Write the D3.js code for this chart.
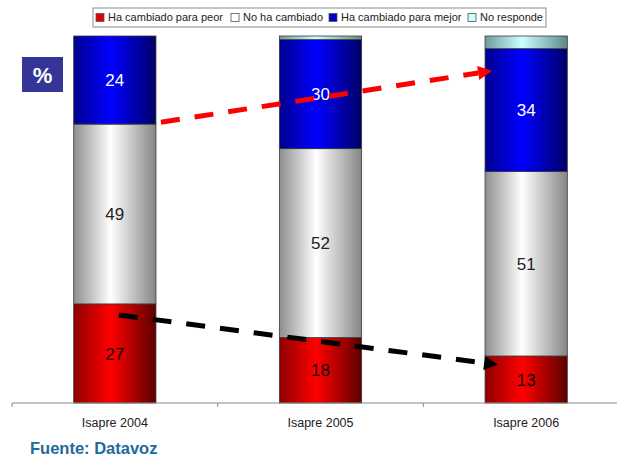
<!DOCTYPE html>
<html><head><meta charset="utf-8">
<script src="https://cdn.jsdelivr.net/npm/d3@7"></script>
<style>
body{margin:0;background:#fff}
svg{display:block;font-family:"Liberation Sans",Arial,sans-serif}
</style>
</head><body>
<svg id="chart" width="617" height="456"></svg>
<script>
// Survey results: perceived change in service (%), by year
const categories = ["Isapre 2004", "Isapre 2005", "Isapre 2006"];
const seriesNames = ["Ha cambiado para peor", "No ha cambiado", "Ha cambiado para mejor", "No responde"];
const peor = [27, 18, 13];
const sinCambio = [49, 52, 51];
const mejor = [24, 30, 34];
const noResponde = [0, 1, 3.5];
const fuente = "Fuente: Datavoz";

const keys = ["peor", "sinCambio", "mejor", "noResponde"];
const rows = categories.map((c, i) => ({
  cat: c, peor: peor[i], sinCambio: sinCambio[i], mejor: mejor[i], noResponde: noResponde[i]
}));

// colour ramps: edge, highlight, far edge
const ramps = {
  peor:       ["#8e0000", "#ff0000", "#5c0000"],
  sinCambio:  ["#8e8e8e", "#ffffff", "#858585"],
  mejor:      ["#00008e", "#0000ff", "#000066"],
  noResponde: ["#6f9c9c", "#ccffff", "#5e8888"]
};
const legendFill = { peor: "#e00000", sinCambio: "#ffffff", mejor: "#0000cc", noResponde: "#ccffff" };
const labelColor = { peor: "#1a0000", sinCambio: "#222", mejor: "#fff", noResponde: "#222" };

const svg = d3.select("#chart");
const defs = svg.append("defs");
keys.forEach(k => {
  const g = defs.append("linearGradient").attr("id", "g-" + k)
    .attr("x1", 0).attr("x2", 1).attr("y1", 0).attr("y2", 0);
  g.append("stop").attr("offset", "0%").attr("stop-color", ramps[k][0]);
  g.append("stop").attr("offset", "45%").attr("stop-color", ramps[k][1]);
  g.append("stop").attr("offset", "100%").attr("stop-color", ramps[k][2]);
});

const x = d3.scaleBand().domain(categories).range([12, 629]).paddingInner(0).paddingOuter(0);
const y = d3.scaleLinear().domain([0, 1]).range([403, 36]);
const barW = x.bandwidth() * 0.4;
const cx = c => x(c) + x.bandwidth() / 2;

const stacked = d3.stack().keys(keys).offset(d3.stackOffsetExpand)(rows);

// bars
const layer = svg.append("g").selectAll("g").data(stacked).join("g")
  .attr("fill", d => `url(#g-${d.key})`);
layer.selectAll("rect").data(d => d.filter(p => p[1] - p[0] > 0)).join("rect")
  .attr("x", d => cx(d.data.cat) - barW / 2)
  .attr("width", barW)
  .attr("y", d => y(d[1]))
  .attr("height", d => y(d[0]) - y(d[1]))
  .attr("stroke", "#3a3a3a").attr("stroke-width", 0.8);

// value labels (skip No responde)
stacked.filter(s => s.key !== "noResponde").forEach(s => {
  svg.append("g").selectAll("text").data(s).join("text")
    .attr("x", d => cx(d.data.cat))
    .attr("y", d => (y(d[0]) + y(d[1])) / 2)
    .attr("dy", "0.36em")
    .attr("text-anchor", "middle")
    .attr("font-size", 17)
    .attr("fill", labelColor[s.key])
    .text(d => d.data[s.key]);
});

// category axis
const axis = svg.append("g").attr("transform", "translate(0,403)");
axis.append("line").attr("x1", 12).attr("x2", 617).attr("stroke", "#8a8a8a").attr("stroke-width", 1);
axis.selectAll("line.tick").data(categories).join("line").attr("class", "tick")
  .attr("x1", d => x(d)).attr("x2", d => x(d)).attr("y1", 0).attr("y2", 4)
  .attr("stroke", "#8a8a8a");
axis.selectAll("text").data(categories).join("text")
  .attr("x", d => cx(d)).attr("y", 24)
  .attr("text-anchor", "middle").attr("font-size", 12.5).attr("fill", "#222")
  .text(d => d);

// trend arrows
const arrows = [
  { from: "Isapre 2004", fx: 0.5 * barW + 5, fv: 0.765, to: "Isapre 2006", tx: -barW / 2 + 7, tv: 0.905, color: "#ff0000" },
  { from: "Isapre 2004", fx: 4, fv: 0.24, to: "Isapre 2006", tx: -barW / 2 + 13, tv: 0.104, color: "#000000" }
];
arrows.forEach(a => {
  const x1 = cx(a.from) + a.fx, y1 = y(a.fv);
  const x2 = cx(a.to) + a.tx, y2 = y(a.tv);
  const ang = Math.atan2(y2 - y1, x2 - x1);
  const head = 14, half = 7;
  const bx = x2 - head * Math.cos(ang), by = y2 - head * Math.sin(ang);
  svg.append("line")
    .attr("x1", x1).attr("y1", y1).attr("x2", bx).attr("y2", by)
    .attr("stroke", a.color).attr("stroke-width", 5)
    .attr("stroke-dasharray", "19,15");
  const px = -Math.sin(ang) * half, py = Math.cos(ang) * half;
  svg.append("path")
    .attr("d", `M${x2},${y2}L${bx + px},${by + py}L${bx - px},${by - py}Z`)
    .attr("fill", a.color);
});

// "%" badge
svg.append("rect").attr("x", 22).attr("y", 57).attr("width", 41).attr("height", 35).attr("fill", "#353597");
svg.append("text").attr("x", 42.5).attr("y", 75).attr("dy", "0.36em").attr("text-anchor", "middle")
  .attr("font-size", 22).attr("font-weight", "bold").attr("fill", "#fff").text("%");

// legend
const lg = svg.append("g");
lg.append("rect").attr("x", 93).attr("y", 8).attr("width", 453).attr("height", 19)
  .attr("fill", "#fff").attr("stroke", "#8c8c8c").attr("stroke-width", 1);
const legendX = [96, 231, 329, 468];
keys.forEach((k, i) => {
  lg.append("rect").attr("x", legendX[i]).attr("y", 13.5).attr("width", 8).attr("height", 8)
    .attr("fill", legendFill[k]).attr("stroke", "#555").attr("stroke-width", 0.8);
  lg.append("text").attr("x", legendX[i] + 12).attr("y", 17.5).attr("dy", "0.36em")
    .attr("font-size", 11).attr("fill", "#222").text(seriesNames[i]);
});

// source note
svg.append("text").attr("x", 30).attr("y", 454).attr("font-size", 16.5).attr("font-weight", "bold")
  .attr("fill", "#1f6a9c").text(fuente);
</script>
</body></html>
